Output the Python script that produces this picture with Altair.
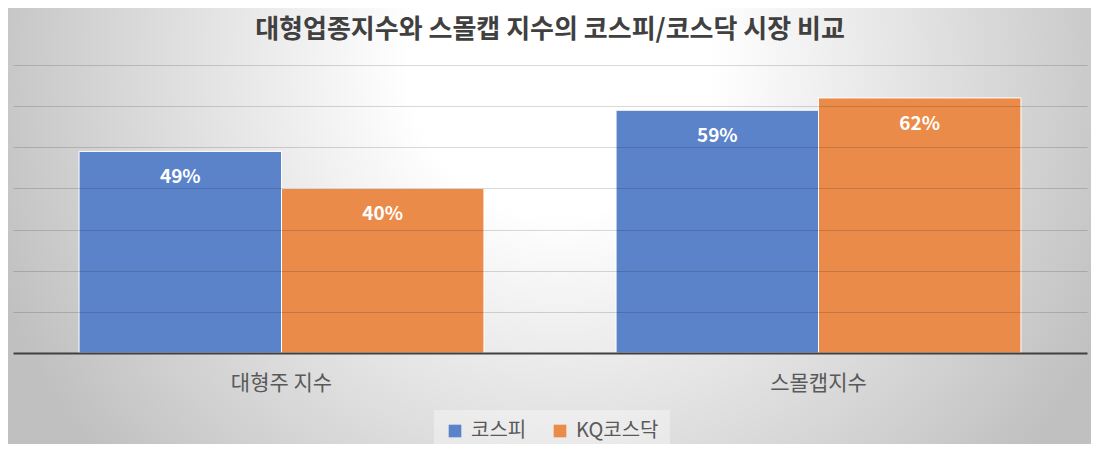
import altair as alt
import pandas as pd

categories = ["대형주 지수", "스몰캡지수"]
series = ["코스피", "KQ코스닥"]
kospi = [49, 59]
kq_kosdaq = [40, 62]
grid_values = [10, 20, 30, 40, 50, 60, 70]
colors = ["#5b83c9", "#eb8b4a"]
title_text = "대형업종지수와 스몰캡 지수의 코스피/코스닥 시장 비교"

rows = []
for i, c in enumerate(categories):
    rows.append({"cat": c, "series": series[0], "value": kospi[i], "label": f"{kospi[i]}%"})
    rows.append({"cat": c, "series": series[1], "value": kq_kosdaq[i], "label": f"{kq_kosdaq[i]}%"})
df = pd.DataFrame(rows)

FONT = "Noto Sans CJK KR"
W, H = 1074, 288
PAD = {"left": 5, "top": 57, "right": 4, "bottom": 91}

bg = alt.Chart(pd.DataFrame({"a": [0]})).mark_rect(
    clip=False,
    fill={
        "gradient": "radial",
        "x1": 0.51, "y1": 0.35, "r1": 0.0,
        "x2": 0.51, "y2": 0.35, "r2": 0.56,
        "stops": [
            {"offset": 0.0, "color": "#ffffff"},
            {"offset": 0.25, "color": "#ffffff"},
            {"offset": 1.0, "color": "#c0c0c0"},
        ],
    },
).encode(
    x=alt.value(-PAD["left"]),
    x2=alt.value(W + PAD["right"]),
    y=alt.value(-PAD["top"]),
    y2=alt.value(H + PAD["bottom"]),
)

base = alt.Chart(df).encode(
    x=alt.X(
        "cat:N",
        sort=categories,
        scale=alt.Scale(paddingInner=0.246, paddingOuter=0.123),
        axis=alt.Axis(
            title=None, labelAngle=0, ticks=False, labelPadding=19,
            labelFontSize=21, labelColor="#595959", labelFont=FONT,
            domainColor="#404040", domainWidth=2, zindex=1,
        ),
    ),
    xOffset=alt.XOffset("series:N", sort=series,
                        scale=alt.Scale(paddingInner=0, paddingOuter=0)),
    y=alt.Y(
        "value:Q",
        scale=alt.Scale(domain=[0, 70], nice=False),
        axis=alt.Axis(
            title=None, labels=False, ticks=False, domain=False,
            values=grid_values, gridColor="#000000", gridOpacity=0.15,
            gridWidth=1, zindex=1,
        ),
    ),
)

bars = base.mark_bar(stroke="white", strokeWidth=1).encode(
    color=alt.Color(
        "series:N",
        sort=series,
        scale=alt.Scale(domain=series, range=colors),
        legend=alt.Legend(
            title=None, orient="none", legendX=421, legendY=345,
            direction="horizontal", symbolType="square", symbolSize=160,
            symbolStrokeWidth=0, labelFontSize=20, labelColor="#595959",
            labelFont=FONT, columnPadding=23, labelOffset=6,
            fillColor="rgba(255,255,255,0.35)", padding=11,
        ),
    )
)

labels = base.mark_text(
    color="white", fontWeight="bold", fontSize=19, dy=26,
    baseline="middle", font=FONT,
).encode(text="label:N")

chart = alt.layer(bg, bars, labels).properties(
    width=W,
    height=H,
    autosize="none",
    padding=PAD,
    title=alt.TitleParams(
        text=title_text, fontSize=26, fontWeight="bold", color="#404040",
        anchor="middle", offset=-35, font=FONT,
    ),
).configure_view(stroke=None)

chart.save("out.html", embed_options={"renderer": "svg", "actions": False})
